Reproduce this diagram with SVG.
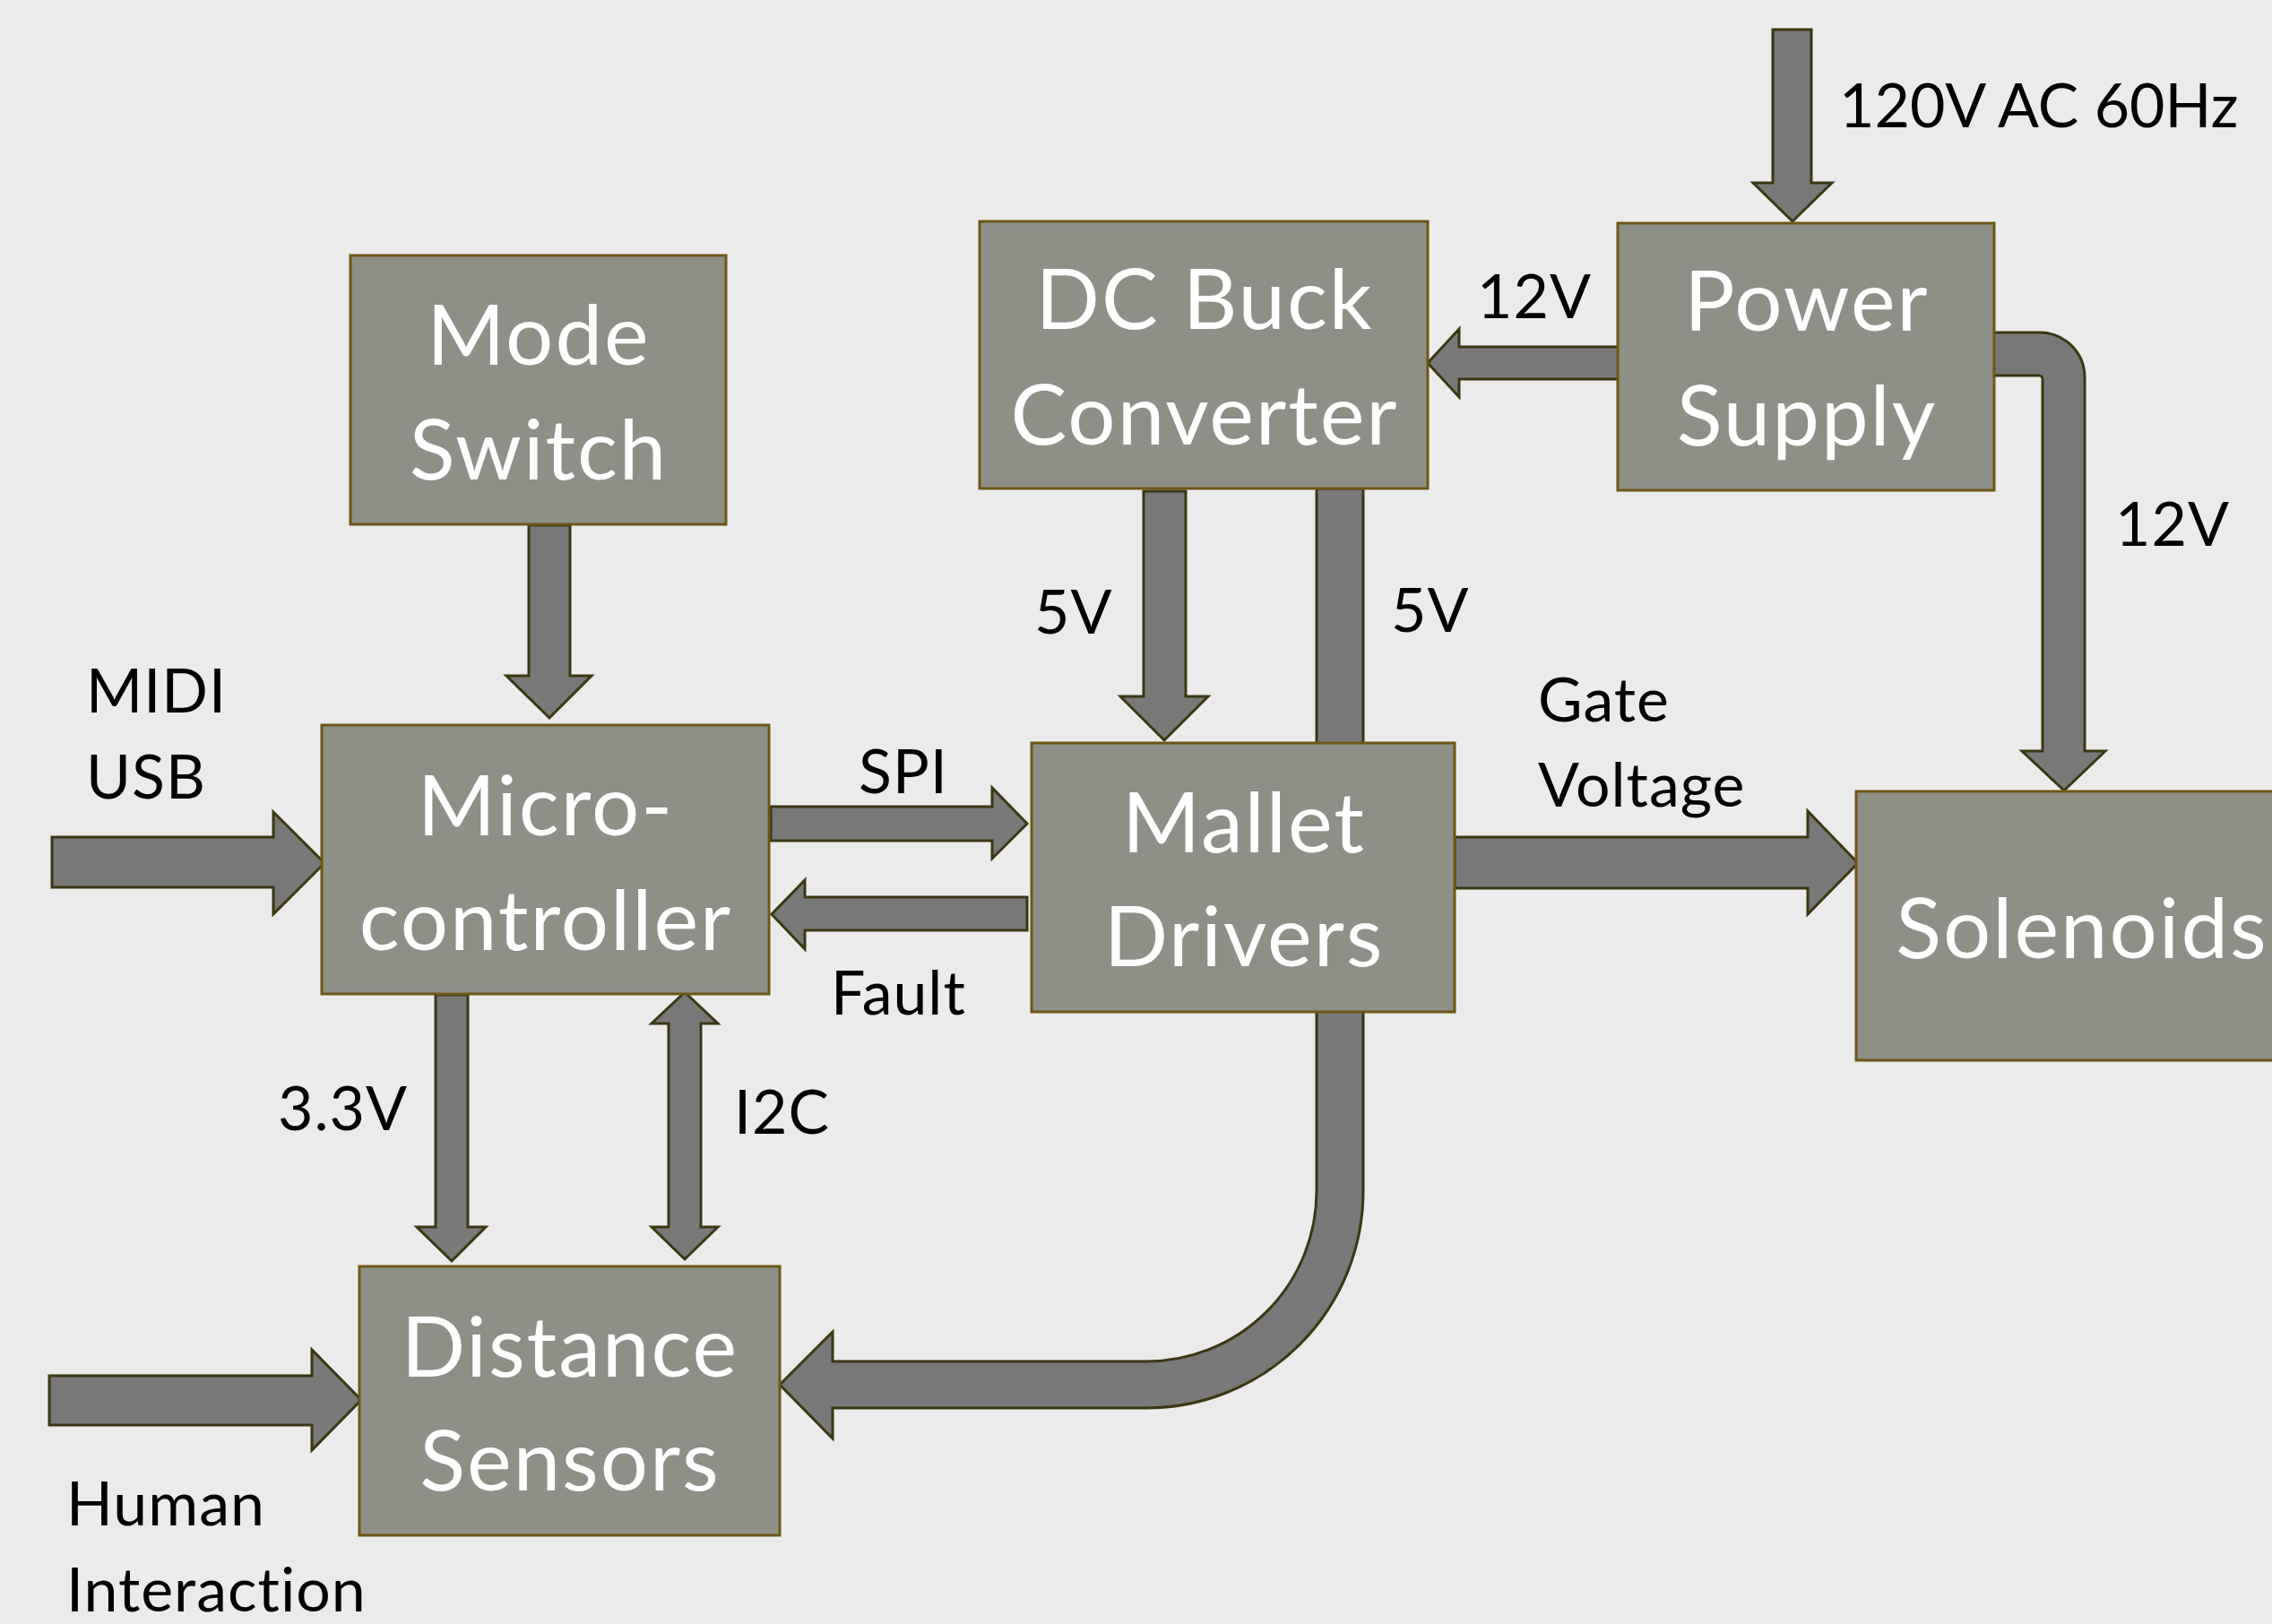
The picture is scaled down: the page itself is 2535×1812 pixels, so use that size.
<svg xmlns="http://www.w3.org/2000/svg" width="2535" height="1812" viewBox="0 0 2535 1812">
<style>
.bg{fill:#EBEBEB}
.box{fill:#8E8F87;stroke:#6E5714;stroke-width:3}
.arr{fill:#787878;stroke:#3B3712;stroke-width:3;stroke-linejoin:miter}
.nt{font-family:Lato,"Open Sans",sans-serif;font-size:94px;fill:#FFFFFF;text-anchor:middle;letter-spacing:2px;font-variant-ligatures:none}
.lb{font-family:Lato,"Open Sans",sans-serif;font-size:68px;fill:#000000;letter-spacing:1px;font-variant-ligatures:none}
</style>
<rect class="bg" x="0" y="0" width="2535" height="1812"/>
<g id="connectors">
<polygon class="arr" points="590,586 636,586 636,754 660,754 613,801 565,754 590,754"/>
<polygon class="arr" points="58,934 305,934 305,906 362,963 305,1020 305,990 58,990"/>
<polygon class="arr" points="55,1535 348,1535 348,1506 403,1562 348,1618 348,1590 55,1590"/>
<polygon class="arr" points="486,1110 522,1110 522,1369 542,1369 504,1407 465,1369 486,1369"/>
<polygon class="arr" points="764,1107 801,1142 782,1142 782,1369 801,1369 764,1405 727,1369 746,1369 746,1142 727,1142"/>
<polygon class="arr" points="860,900 1107,900 1107,879 1146,919 1107,958 1107,938 860,938"/>
<polygon class="arr" points="1146,1001 1146,1038 898,1038 898,1059 861,1020 898,982 898,1001"/>
<polygon class="arr" points="1623,934 2017,934 2017,905 2073,963 2017,1020 2017,991 1623,991"/>
<polygon class="arr" points="1276,548 1323,548 1323,777 1348,777 1299,826 1250,777 1276,777"/>
<polygon class="arr" points="1978,33 2021,33 2021,204 2044,204 2000,247 1956,204 1978,204"/>
<polygon class="arr" points="1808,387 1808,423 1628,423 1628,443 1593,405 1628,367 1628,387"/>
<path class="arr" d="M2224,371 H2276 A50,50 0 0 1 2326,421 V838 H2349 L2303,882 L2256,838 H2279 V423 A4,4 0 0 0 2275,419 H2224 Z"/>
<path class="arr" d="M1469,545 H1521 V1329 A242,242 0 0 1 1279,1571 H929 V1605 L870,1545 L929,1486 V1519 H1279 A190,190 0 0 0 1469,1329 Z"/>
</g>
<g id="labels">
<text class="lb" x="96" y="795">MIDI</text>
<text class="lb" x="96" y="891">USB</text>
<text class="lb" x="2052" y="142" style="letter-spacing:0px">120V AC 60Hz</text>
<text class="lb" x="1648" y="355">12V</text>
<text class="lb" x="2360" y="609">12V</text>
<text class="lb" x="1154" y="707">5V</text>
<text class="lb" x="1552" y="705">5V</text>
<text class="lb" x="958" y="885">SPI</text>
<text class="lb" x="927" y="1132">Fault</text>
<text class="lb" x="1716" y="805">Gate</text>
<text class="lb" x="1716" y="900">Voltage</text>
<text class="lb" x="310" y="1261">3.3V</text>
<text class="lb" x="819" y="1265">I2C</text>
<text class="lb" x="74" y="1702">Human</text>
<text class="lb" x="74" y="1798">Interaction</text>
</g>
<g id="mode-switch">
<rect class="box" x="391" y="285" width="419" height="300"/>
<text class="nt" x="601" y="407">Mode</text>
<text class="nt" x="601" y="535">Switch</text>
</g>
<g id="microcontroller">
<rect class="box" x="359" y="809" width="499" height="300"/>
<text class="nt" x="609" y="932">Micro-</text>
<text class="nt" x="609" y="1060">controller</text>
</g>
<g id="distance-sensors">
<rect class="box" x="401" y="1413" width="469" height="300"/>
<text class="nt" x="636" y="1536">Distance</text>
<text class="nt" x="636" y="1663">Sensors</text>
</g>
<g id="dc-buck">
<rect class="box" x="1093" y="247" width="500" height="298"/>
<text class="nt" x="1344" y="367">DC Buck</text>
<text class="nt" x="1344" y="496">Converter</text>
</g>
<g id="power-supply">
<rect class="box" x="1805" y="249" width="420" height="298"/>
<text class="nt" x="2016" y="369">Power</text>
<text class="nt" x="2016" y="497">Supply</text>
</g>
<g id="mallet-drivers">
<rect class="box" x="1151" y="829" width="472" height="300"/>
<text class="nt" x="1388" y="951">Mallet</text>
<text class="nt" x="1388" y="1078">Drivers</text>
</g>
<g id="solenoids">
<rect class="box" x="2071" y="883" width="520" height="300"/>
<text class="nt" x="2323" y="1069">Solenoids</text>
</g>
</svg>
